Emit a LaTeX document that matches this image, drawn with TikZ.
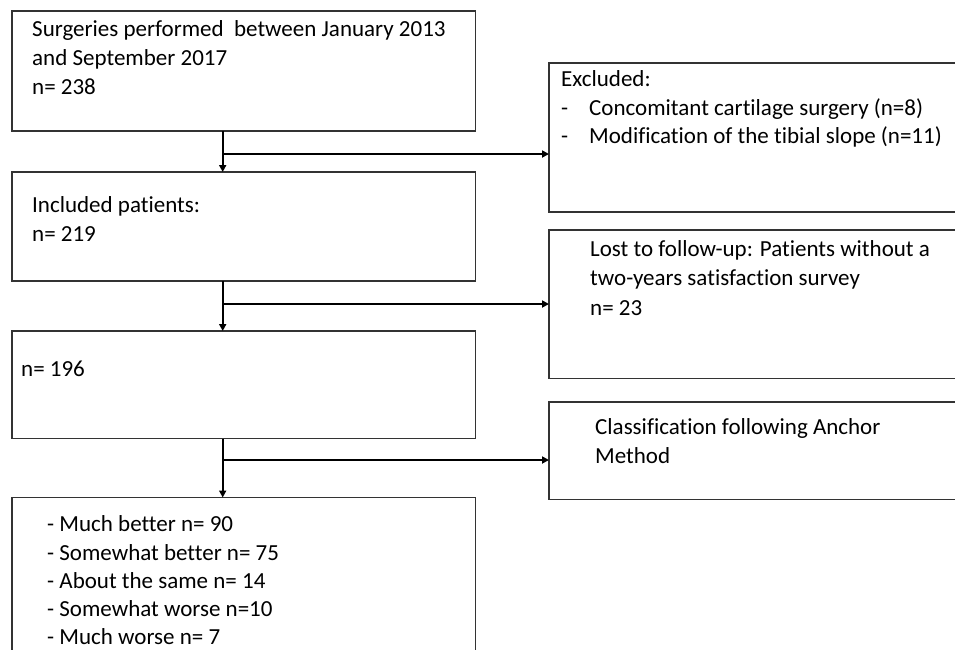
\documentclass[tikz,border=0pt]{standalone}
\usepackage{fontspec}
\setmainfont{Carlito}[Ligatures={NoCommon}]
\usetikzlibrary{arrows.meta}
\begin{document}
\begin{tikzpicture}[x=1pt,y=-1pt,
  box/.style={draw=black!80, line width=1.3pt, rectangle, inner sep=0pt, outer sep=0pt, anchor=north west},
  txt/.style={anchor=base west, inner sep=0pt, font=\fontsize{23pt}{28.5pt}\selectfont},
  arr/.style={draw=black, line width=2pt, -{Triangle[length=7pt,width=7pt]}},
  link/.style={draw=black, line width=2pt}]
\useasboundingbox (0,0) rectangle (955,649);
\clip (0,0) rectangle (955,649);
% boxes
\node[box, minimum width=463.5pt, minimum height=120pt] (b1) at (12,11) {};
\node[box, minimum width=463.5pt, minimum height=109pt] (b2) at (12,172) {};
\node[box, minimum width=463.5pt, minimum height=107.5pt] (b3) at (12,331) {};
\node[box, minimum width=463.5pt, minimum height=200pt] (b4) at (12,497.5) {};
\node[box, minimum width=420pt, minimum height=149pt] (ex) at (549,63) {};
\node[box, minimum width=420pt, minimum height=148.5pt] (lost) at (549,230) {};
\node[box, minimum width=420pt, minimum height=97.5pt] (cls) at (549,402) {};
% texts
\node[txt] (t1a) at (32,36) {Surgeries performed\ \ between January 2013};
\node[txt] (t1b) at (32,65) {and September 2017};
\node[txt] (t1c) at (32,94) {n= 238};
\node[txt] (t2a) at (32,212) {Included patients:};
\node[txt] (t2b) at (32,241) {n= 219};
\node[txt] (t3a) at (21,376) {n= 196};
\node[txt] (t4a) at (47,531) {- Much better n= 90};
\node[txt] (t4b) at (47,560) {- Somewhat better n= 75};
\node[txt] (t4c) at (47,588) {- About the same n= 14};
\node[txt] (t4d) at (47,616) {- Somewhat worse n=10};
\node[txt] (t4e) at (47,644) {- Much worse n= 7};
\node[txt] (ea) at (561,86.5) {Excluded:};
\node[txt] (eb1) at (561,115) {-};
\node[txt] (eb2) at (589,115) {Concomitant cartilage surgery (n=8)};
\node[txt] (ec1) at (561,143.5) {-};
\node[txt] (ec2) at (589,143.5) {Modification of the tibial slope (n=11)};
\node[txt] (la) at (590,256) {Lost to follow-up: Patients without a};
\node[txt] (lb) at (590,285) {two-years satisfaction survey};
\node[txt] (lc) at (590,315) {n= 23};
\node[txt] (ca) at (595,434.5) {Classification following Anchor};
\node[txt] (cb) at (595,463) {Method};
% connectors
\coordinate (j1) at (222.7,154);
\coordinate (j2) at (222.7,304);
\coordinate (j3) at (222.7,460);
\draw[arr] (b1.south -| j1) -- (b2.north -| j1);
\draw[arr] (j1) -- (ex.west |- j1);
\draw[arr] (b2.south -| j2) -- (b3.north -| j2);
\draw[arr] (j2) -- (lost.west |- j2);
\draw[arr] (b3.south -| j3) -- (b4.north -| j3);
\draw[arr] (j3) -- (cls.west |- j3);
\end{tikzpicture}
\end{document}
